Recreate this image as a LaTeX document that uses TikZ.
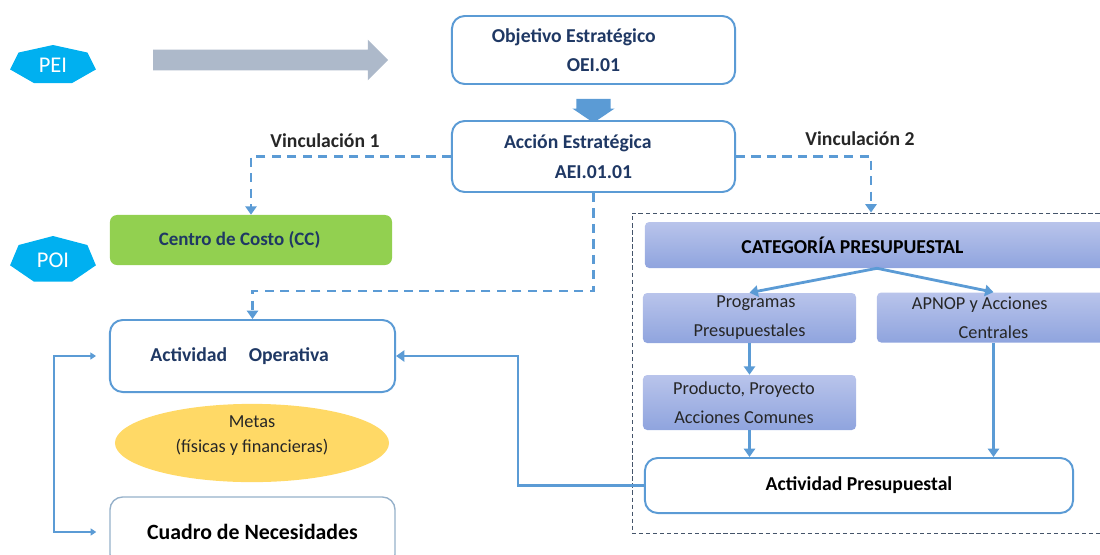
\documentclass[tikz,border=0pt]{standalone}
\usepackage{fontspec}
\setmainfont{Carlito}
\usetikzlibrary{arrows.meta,shapes.arrows,shapes.geometric,calc}
\definecolor{lineblue}{HTML}{5B9BD5}
\definecolor{navytxt}{HTML}{1F3864}
\definecolor{darktxt}{HTML}{262626}
\definecolor{peicyan}{HTML}{00B0F0}
\definecolor{ccgreen}{HTML}{92D050}
\definecolor{metaorange}{HTML}{FFD966}
\definecolor{arrowgrey}{HTML}{ADB9CA}
\definecolor{cattop}{HTML}{B9C4EB}
\definecolor{catbot}{HTML}{8FA4DE}
\definecolor{framegrey}{HTML}{44546A}
\tikzset{
  box/.style={draw=lineblue, line width=1.4pt, rounded corners=9pt, fill=white, align=center, inner sep=0pt},
  catbox/.style={top color=cattop, bottom color=catbot, rounded corners=3pt, align=center, inner sep=0pt,
    text=darktxt, font=\fontsize{13}{20.5}\selectfont},
  bold/.style={font=\fontsize{14}{21}\selectfont\bfseries},
  link/.style={draw=lineblue, line width=2pt, -{Triangle[width=8pt,length=6pt]}},
  vinc/.style={link, dash pattern=on 6.5pt off 4.5pt},
}
\begin{document}
\begin{tikzpicture}[x=0.025cm, y=-0.025cm]
\useasboundingbox (0,0) rectangle (1100,554);

% PEI / POI tags
\foreach \tag/\yy/\ry in {PEI/65/20, POI/260/24}{
  \fill[peicyan, shift={(53,\yy)}] plot[domain=0:360, samples=8] ({44*cos(\x+90)}, {-\ry*sin(\x+90)}) -- cycle;
  \node[text=white, font=\fontsize{16}{16}\selectfont] (\tag) at (53,\yy) {\tag};
}
\node[single arrow, fill=arrowgrey, minimum height=5.875cm, inner xsep=0pt, inner ysep=0.25cm,
  single arrow head extend=0.25cm] (pa) at (265.5,60) {};

% strategic part
\node[box, minimum width=7.075cm, minimum height=1.7cm, text=navytxt, bold] (obj) at (593.5,50)
  {Objetivo Estratégico\hspace*{2em}\\OEI.01};
\node[single arrow, fill=lineblue, rotate=-90, minimum height=0.6cm, inner xsep=0pt, inner ysep=0.42cm,
  single arrow head extend=0.1cm, single arrow tip angle=112] (down) at (593.5,105) {};
\node[box, minimum width=7.075cm, minimum height=1.775cm, text=navytxt, bold] (acc) at (593.5,156.5)
  {Acción Estratégica\hspace*{1.6em}\\AEI.01.01};
\node[text=darktxt, bold] (v1) at (325,141) {Vinculación 1};
\node[text=darktxt, bold] (v2) at (860,139) {Vinculación 2};

% POI side
\node[fill=ccgreen, rounded corners=5pt, minimum width=7.05cm, minimum height=1.25cm, text=navytxt,
  bold, font=\fontsize{13.5}{20}\selectfont\bfseries] (cc) at (251,240) {Centro de Costo (CC)\hspace*{1.2em}};
\node[box, minimum width=7.125cm, minimum height=1.8cm, text=navytxt, bold] (ao) at (252.5,356)
  {Actividad\hspace{1.1em}Operativa\hspace*{1.3em}};
\node[ellipse, fill=metaorange, minimum width=6.85cm, minimum height=1.65cm, align=center, text=darktxt,
  font=\fontsize{13}{18}\selectfont, inner sep=0pt] (metas) at (252,443)
  {Metas\\(físicas y financieras)\\[-5pt]};
\node[box, draw=lineblue!60!gray!70, line width=1pt, minimum width=7.125cm, minimum height=1.75cm,
  font=\fontsize{15.5}{20}\selectfont\bfseries] (cn) at (252.5,532) {Cuadro de Necesidades};

% budget side
\node[draw=framegrey, densely dashed, line width=0.6pt, minimum width=11.95cm, minimum height=8cm,
  inner sep=0pt] (frame) at (871,373) {};
\node[catbox, minimum width=11.6cm, minimum height=1.15cm, text=black, bold] (cat) at (877,245)
  {CATEGORÍA PRESUPUESTAL\hspace*{2.5em}};
\node[catbox, minimum width=5.325cm, minimum height=1.25cm] (prog) at (749.5,318)
  {\hspace*{0.7em}Programas\\Presupuestales};
\node[catbox, minimum width=5.825cm, minimum height=1.25cm] (apnop) at (993.5,317.5)
  {APNOP y Acciones\hspace*{1.5em}\\Centrales};
\node[catbox, minimum width=5.325cm, minimum height=1.375cm] (prod) at (749.5,402.5)
  {Producto, Proyecto\hspace*{0.6em}\\Acciones Comunes\hspace*{0.6em}};
\node[box, minimum width=10.7cm, minimum height=1.375cm, text=black, bold] (ap) at (859,485.5)
  {Actividad Presupuestal};

% connectors
\draw[vinc] (acc.west) -| (cc.north);
\draw[vinc] (acc.east) -| (frame.north);
\draw[vinc] (acc.south) -- ++(0,98) -| (ao.north);
\draw[link] (cat.south) -- (prog.north);
\draw[link] (cat.south) -- (apnop.north);
\draw[link] (prog.south) -- (prod.north);
\draw[link] (prod.south) -- (prod.south |- ap.north);
\draw[link] (apnop.south) -- (apnop.south |- ap.north);
\draw[link] (ap.west) -- ++(-126,0) |- (ao.east);
\coordinate (brk) at (54,356);
\draw[lineblue, line width=0.8pt, {Triangle[width=5pt,length=4pt]}-{Triangle[width=5pt,length=4pt]}]
  ($(ao.west)+(-13,0)$) -- (brk) |- ($(cn.west)+(-13,0)$);

\end{tikzpicture}
\end{document}
